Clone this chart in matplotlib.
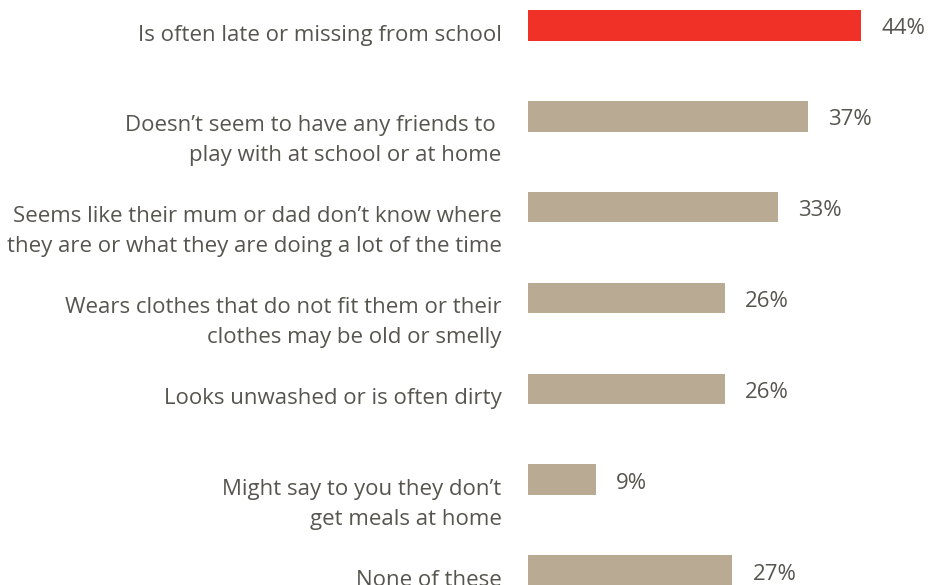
import matplotlib.pyplot as plt

categories = [
    "Is often late or missing from school",
    "Doesn\u2019t seem to have any friends to \nplay with at school or at home",
    "Seems like their mum or dad don\u2019t know where\nthey are or what they are doing a lot of the time",
    "Wears clothes that do not fit them or their\nclothes may be old or smelly",
    "Looks unwashed or is often dirty",
    "Might say to you they don\u2019t\nget meals at home",
    "None of these",
]
values = [44, 37, 33, 26, 26, 9, 27]
highlight = 0  # the red bar

red = '#f03127'
tan = '#b9aa94'
text_color = '#56554f'
font = ['Open Sans', 'DejaVu Sans']

fig = plt.figure(figsize=(9.29, 5.85), dpi=100)
# axes start where the bars start, label column sits left of it
ax = fig.add_axes([528 / 929, 0, 401 / 929, 1])
ax.set_xlim(0, 401 / 7.57)
ax.set_ylim(6.157, -0.278)
ax.axis('off')

colors = [red if i == highlight else tan for i in range(len(values))]
ax.barh(range(len(values)), values, height=0.338, color=colors)

for i, (label, v) in enumerate(zip(categories, values)):
    # category label, first line baseline level with bar bottom
    for k, line in enumerate(label.split('\n')):
        ax.annotate(line, xy=(0, i), xytext=(-19, -11 - 21.6 * k),
                    textcoords='offset points', ha='right', va='baseline',
                    fontsize=16, color=text_color, family=font,
                    annotation_clip=False)
    ax.annotate(f"{v}%", xy=(v, i), xytext=(14.4, -6.4),
                textcoords='offset points', ha='left', va='baseline',
                fontsize=16, color=text_color, family=font,
                annotation_clip=False)

fig.savefig('out.png', dpi=100)
